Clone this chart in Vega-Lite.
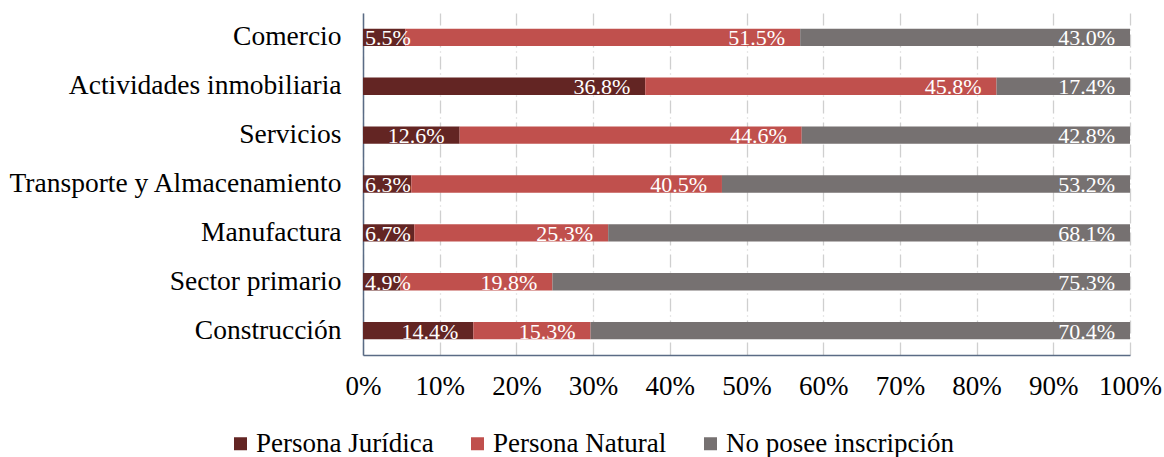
{
  "$schema": "https://vega.github.io/schema/vega-lite/v6.json",
  "width": 767,
  "height": 342,
  "autosize": {"type": "none"},
  "padding": {"left": 363, "top": 13, "right": 34, "bottom": 102},
  "background": "white",
  "config": {
    "font": "Liberation Serif",
    "view": {"stroke": null},
    "legend": {"labelFont": "Liberation Serif"},
    "axis": {"labelFont": "Liberation Serif"},
    "text": {"font": "Liberation Serif"}
  },
  "data": {
    "values": [
      {"sector": "Comercio", "serie": "Persona Jurídica", "ord": 1, "valor": 0.055},
      {"sector": "Comercio", "serie": "Persona Natural", "ord": 2, "valor": 0.515},
      {"sector": "Comercio", "serie": "No posee inscripción", "ord": 3, "valor": 0.430},
      {"sector": "Actividades inmobiliaria", "serie": "Persona Jurídica", "ord": 1, "valor": 0.368},
      {"sector": "Actividades inmobiliaria", "serie": "Persona Natural", "ord": 2, "valor": 0.458},
      {"sector": "Actividades inmobiliaria", "serie": "No posee inscripción", "ord": 3, "valor": 0.174},
      {"sector": "Servicios", "serie": "Persona Jurídica", "ord": 1, "valor": 0.126},
      {"sector": "Servicios", "serie": "Persona Natural", "ord": 2, "valor": 0.446},
      {"sector": "Servicios", "serie": "No posee inscripción", "ord": 3, "valor": 0.428},
      {"sector": "Transporte y Almacenamiento", "serie": "Persona Jurídica", "ord": 1, "valor": 0.063},
      {"sector": "Transporte y Almacenamiento", "serie": "Persona Natural", "ord": 2, "valor": 0.405},
      {"sector": "Transporte y Almacenamiento", "serie": "No posee inscripción", "ord": 3, "valor": 0.532},
      {"sector": "Manufactura", "serie": "Persona Jurídica", "ord": 1, "valor": 0.067},
      {"sector": "Manufactura", "serie": "Persona Natural", "ord": 2, "valor": 0.253},
      {"sector": "Manufactura", "serie": "No posee inscripción", "ord": 3, "valor": 0.681},
      {"sector": "Sector primario", "serie": "Persona Jurídica", "ord": 1, "valor": 0.049},
      {"sector": "Sector primario", "serie": "Persona Natural", "ord": 2, "valor": 0.198},
      {"sector": "Sector primario", "serie": "No posee inscripción", "ord": 3, "valor": 0.753},
      {"sector": "Construcción", "serie": "Persona Jurídica", "ord": 1, "valor": 0.144},
      {"sector": "Construcción", "serie": "Persona Natural", "ord": 2, "valor": 0.153},
      {"sector": "Construcción", "serie": "No posee inscripción", "ord": 3, "valor": 0.704}
    ]
  },
  "transform": [
    {"stack": "valor", "groupby": ["sector"], "sort": [{"field": "ord", "order": "ascending"}], "offset": "normalize", "as": ["x0", "x1"]}
  ],
  "encoding": {
    "y": {
      "field": "sector",
      "type": "nominal",
      "sort": ["Comercio", "Actividades inmobiliaria", "Servicios", "Transporte y Almacenamiento", "Manufactura", "Sector primario", "Construcción"],
      "scale": {"paddingInner": 0.645, "paddingOuter": 0.32},
      "axis": {
        "title": null,
        "domain": true,
        "domainColor": "#5A6B85",
        "domainWidth": 1.5,
        "ticks": false,
        "labelFont": "Liberation Serif",
        "labelFontSize": 27.5,
        "labelColor": "#000000",
        "labelPadding": 22,
        "labelLimit": 400
      }
    }
  },
  "layer": [
    {
      "mark": {"type": "bar"},
      "encoding": {
        "x": {
          "field": "x0",
          "type": "quantitative",
          "scale": {"domain": [0, 1], "nice": false},
          "axis": {
            "title": null,
            "format": ".0%",
            "values": [0, 0.1, 0.2, 0.3, 0.4, 0.5, 0.6, 0.7, 0.8, 0.9, 1],
            "grid": true,
            "gridColor": "#CFCFCF",
            "gridWidth": 1.3,
            "gridDash": [13, 4, 1, 4],
            "domainColor": "#5A6B85",
            "domainWidth": 1.5,
            "ticks": false,
            "labelFont": "Liberation Serif",
            "labelFontSize": 27,
            "labelColor": "#000000",
            "labelPadding": 18,
            "labelFlush": false
          }
        },
        "x2": {"field": "x1"},
        "color": {
          "field": "serie",
          "type": "nominal",
          "scale": {
            "domain": ["Persona Jurídica", "Persona Natural", "No posee inscripción"],
            "range": ["#632523", "#C0504D", "#767171"]
          },
          "legend": {
            "title": null,
            "orient": "none",
            "legendX": -136,
            "legendY": 417,
            "direction": "horizontal",
            "columns": 3,
            "symbolType": "square",
            "symbolSize": 169,
            "symbolStrokeWidth": 0,
            "labelFont": "Liberation Serif",
            "labelFontSize": 27,
            "labelLimit": 400,
            "labelColor": "#000000",
            "columnPadding": 30,
            "labelOffset": 2
          }
        }
      }
    },
    {
      "transform": [{"filter": "datum.valor >= 0.08"}],
      "mark": {"type": "text", "align": "right", "baseline": "middle", "dx": -15, "dy": 1, "font": "Liberation Serif", "fontSize": 22, "color": "#FFFFFF"},
      "encoding": {
        "x": {"field": "x1", "type": "quantitative"},
        "text": {"field": "valor", "type": "quantitative", "format": ".1%"}
      }
    },
    {
      "transform": [{"filter": "datum.valor < 0.08"}],
      "mark": {"type": "text", "align": "left", "baseline": "middle", "dx": 2, "dy": 1, "font": "Liberation Serif", "fontSize": 22, "color": "#FFFFFF"},
      "encoding": {
        "x": {"field": "x0", "type": "quantitative"},
        "text": {"field": "valor", "type": "quantitative", "format": ".1%"}
      }
    }
  ]
}
